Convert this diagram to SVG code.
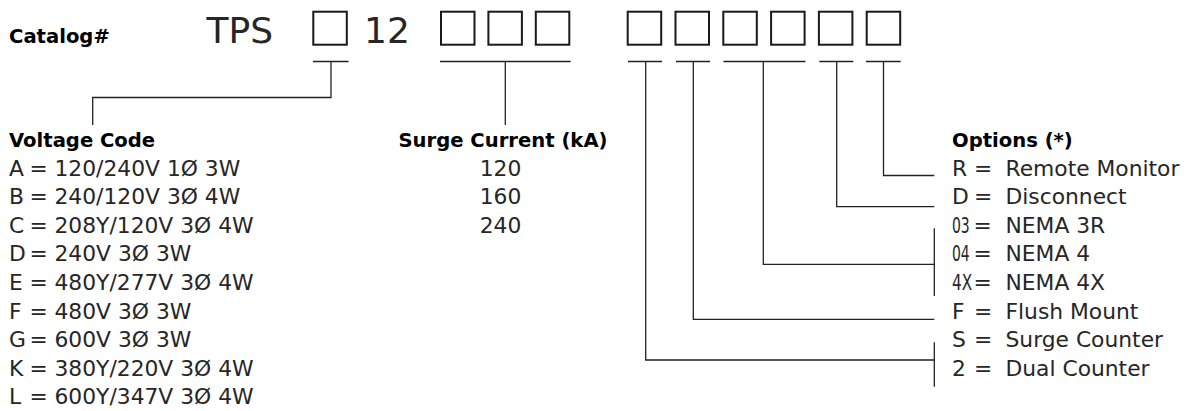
<svg xmlns="http://www.w3.org/2000/svg" width="1188" height="411" viewBox="0 0 1188 411">
<style>
  .box { fill: none; stroke: #1a1a1a; stroke-width: 2; }
  .ln { fill: none; stroke: #222; stroke-width: 1.3; }
  .hd { font-family: "DejaVu Sans", "Liberation Sans", sans-serif; font-weight: bold; font-size: 19.6px; fill: #000; }
  .tx { font-family: "DejaVu Sans", "Liberation Sans", sans-serif; font-size: 21.8px; fill: #262626; }
  .big { font-family: "DejaVu Sans", "Liberation Sans", sans-serif; font-size: 36px; fill: #262626; }
</style>
<rect width="1188" height="411" fill="#fff"/>

<g id="catalog">
  <text class="hd" x="9" y="42.7">Catalog#</text>
  <text class="big" x="206.5" y="43.3">TPS</text>
  <text class="big" x="364" y="43.3">12</text>
</g>

<g id="boxes">
  <rect class="box" x="313.3" y="11.7" width="33.5" height="33"/>
  <rect class="box" x="441" y="11.7" width="33.5" height="33"/>
  <rect class="box" x="488.4" y="11.7" width="33.5" height="33"/>
  <rect class="box" x="535.8" y="11.7" width="33.5" height="33"/>
  <rect class="box" x="627.7" y="11.7" width="33.5" height="33"/>
  <rect class="box" x="675.5" y="11.7" width="33.5" height="33"/>
  <rect class="box" x="723.3" y="11.7" width="33.5" height="33"/>
  <rect class="box" x="771.1" y="11.7" width="33.5" height="33"/>
  <rect class="box" x="818.9" y="11.7" width="33.5" height="33"/>
  <rect class="box" x="866.7" y="11.7" width="33.5" height="33"/>
</g>

<g id="connectors">
  <path class="ln" d="M313 61.5 H348.5 M331 61.5 V97.5 H92.7 V125"/>
  <path class="ln" d="M440 61.5 H570.7 M505.3 61.5 V125"/>
  <path class="ln" d="M628 61.5 H662 M645.7 61.5 V360 H934.3 M934.3 342.3 V386.7"/>
  <path class="ln" d="M676 61.5 H710 M693.3 61.5 V319.3 H934.3"/>
  <path class="ln" d="M723.5 61.5 H805.5 M763.3 61.5 V264.3 H934.3 M934.3 228.3 V296"/>
  <path class="ln" d="M819.3 61.5 H853.3 M836.7 61.5 V206.7 H934.3"/>
  <path class="ln" d="M866 61.5 H900.7 M883.5 61.5 V175.5 H934.3"/>
</g>

<g id="voltage-code">
  <text class="hd" x="9" y="146.7">Voltage Code</text>
  <g class="tx">
    <text x="9" y="175.5">A</text><text x="29.5" y="175.5">=</text><text x="54.5" y="175.5">120/240V 1Ø 3W</text>
    <text x="9" y="204.1">B</text><text x="29.5" y="204.1">=</text><text x="54.5" y="204.1">240/120V 3Ø 4W</text>
    <text x="9" y="232.7">C</text><text x="29.5" y="232.7">=</text><text x="54.5" y="232.7">208Y/120V 3Ø 4W</text>
    <text x="9" y="261.3">D</text><text x="29.5" y="261.3">=</text><text x="54.5" y="261.3">240V 3Ø 3W</text>
    <text x="9" y="289.9">E</text><text x="29.5" y="289.9">=</text><text x="54.5" y="289.9">480Y/277V 3Ø 4W</text>
    <text x="9" y="318.5">F</text><text x="29.5" y="318.5">=</text><text x="54.5" y="318.5">480V 3Ø 3W</text>
    <text x="9" y="347.1">G</text><text x="29.5" y="347.1">=</text><text x="54.5" y="347.1">600V 3Ø 3W</text>
    <text x="9" y="375.7">K</text><text x="29.5" y="375.7">=</text><text x="54.5" y="375.7">380Y/220V 3Ø 4W</text>
    <text x="9" y="404.3">L</text><text x="29.5" y="404.3">=</text><text x="54.5" y="404.3">600Y/347V 3Ø 4W</text>
  </g>
</g>

<g id="surge-current">
  <text class="hd" x="503" y="146.7" text-anchor="middle">Surge Current (kA)</text>
  <g class="tx" text-anchor="middle">
    <text x="500.5" y="175.5">120</text>
    <text x="500.5" y="204.1">160</text>
    <text x="500.5" y="232.7">240</text>
  </g>
</g>

<g id="options">
  <text class="hd" x="952" y="146.7">Options (*)</text>
  <g class="tx">
    <text x="952" y="175.5">R</text><text x="974" y="175.5">=</text><text x="1005.5" y="175.5">Remote Monitor</text>
    <text x="952" y="204.1">D</text><text x="974" y="204.1">=</text><text x="1005.5" y="204.1">Disconnect</text>
    <text transform="matrix(0.64 0 0 1 952 232.7)">03</text><text x="973.5" y="232.7">=</text><text x="1005.5" y="232.7">NEMA 3R</text>
    <text transform="matrix(0.64 0 0 1 952 261.3)">04</text><text x="973.5" y="261.3">=</text><text x="1005.5" y="261.3">NEMA 4</text>
    <text transform="matrix(0.7 0 0 1 952 289.9)">4X</text><text x="973.5" y="289.9">=</text><text x="1005.5" y="289.9">NEMA 4X</text>
    <text x="952" y="318.5">F</text><text x="974" y="318.5">=</text><text x="1005.5" y="318.5">Flush Mount</text>
    <text x="952" y="347.1">S</text><text x="974" y="347.1">=</text><text x="1005.5" y="347.1">Surge Counter</text>
    <text x="952" y="375.7">2</text><text x="974" y="375.7">=</text><text x="1005.5" y="375.7">Dual Counter</text>
  </g>
</g>
</svg>
